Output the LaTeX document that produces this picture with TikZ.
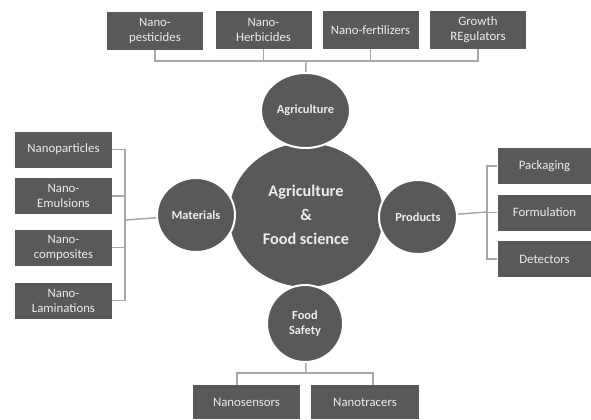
\documentclass[tikz,border=0pt]{standalone}
\usepackage{fontspec}
\setmainfont{Carlito}
\usetikzlibrary{shapes.geometric}
\definecolor{boxgray}{HTML}{595959}
\definecolor{txtgray}{HTML}{EDEDED}
\definecolor{linegray}{HTML}{A6A6A6}
\begin{document}
\begin{tikzpicture}[x=0.75pt,y=-0.75pt,
  box/.style={rectangle, fill=boxgray, text=txtgray, inner sep=0pt, align=center,
    font=\fontsize{9.6}{11.25}\selectfont},
  topbox/.style={box, minimum width=72pt, minimum height=28.5pt},
  leftbox/.style={box, minimum width=72.75pt, minimum height=27pt},
  rightbox/.style={box, minimum width=70.5pt, minimum height=27pt},
  botbox/.style={box, minimum height=25.5pt},
  bub/.style={ellipse, fill=boxgray, draw=white, line width=1.5pt, text=txtgray,
    inner sep=0pt, align=center, font=\bfseries\fontsize{9.3}{11.25}\selectfont},
  conn/.style={draw=linegray, line width=1.1pt}]
\useasboundingbox[fill=white] (0,0) rectangle (591,419);

% central bubble and satellites
\node[bub, minimum width=117pt, minimum height=109.5pt,
      font=\bfseries\fontsize{12.2}{18}\selectfont] (core) at (306,215) {Agriculture\\\&\\Food science};
\node[bub, minimum width=66.75pt, minimum height=56.25pt] (agr) at (305.5,110.5) {Agriculture};
\node[bub, minimum width=58.5pt, minimum height=55.5pt] (mat) at (196,215) {Materials};
\node[bub, minimum width=58.5pt, minimum height=55.5pt] (prod) at (418,217) {Products};
\node[bub, minimum width=57pt, minimum height=57.75pt] (fs) at (305,323.5) {Food\\Safety};

% top boxes
\node[topbox] (t1) at (155,31) {Nano-\\pesticides};
\node[topbox] (t2) at (263.5,30) {Nano-\\Herbicides};
\node[topbox] (t3) at (370.5,30) {Nano-fertilizers};
\node[topbox] (t4) at (478,30) {Growth\\REgulators};
\coordinate (tj) at (306,61);
\draw[conn] (t1.south) -- (t1.south |- tj) -- (t4.south |- tj) -- (t4.south);
\draw[conn] (t2.south) -- (t2.south |- tj);
\draw[conn] (t3.south) -- (t3.south |- tj);
\draw[conn] (tj) -- (agr);

% left boxes
\node[leftbox] (l1) at (63.5,149.5) {Nanoparticles};
\node[leftbox] (l2) at (63.5,196) {Nano-\\Emulsions};
\node[leftbox] (l3) at (63.5,247.5) {Nano-\\composites};
\node[leftbox] (l4) at (63.5,300.5) {Nano-\\Laminations};
\coordinate (lj) at (125,220);
\draw[conn] (l1.east) -- (l1.east -| lj) -- (l4.east -| lj) -- (l4.east);
\draw[conn] (l2.east) -- (l2.east -| lj);
\draw[conn] (l3.east) -- (l3.east -| lj);
\draw[conn] (lj) -- (mat);

% right boxes
\node[rightbox] (r1) at (544.5,166) {Packaging};
\node[rightbox] (r2) at (544.5,212.5) {Formulation};
\node[rightbox] (r3) at (544.5,259) {Detectors};
\coordinate (rj) at (487,212);
\draw[conn] (r1.west) -- (r1.west -| rj) -- (r3.west -| rj) -- (r3.west);
\draw[conn] (r2.west) -- (r2.west -| rj);
\draw[conn] (prod) -- (rj);

% bottom boxes
\node[botbox, minimum width=80.25pt] (b1) at (246.5,402) {Nanosensors};
\node[botbox, minimum width=81pt] (b2) at (365,402) {Nanotracers};
\coordinate (bj) at (306,373);
\coordinate (bl) at (237,373);
\coordinate (br) at (373,373);
\draw[conn] (fs) -- (bj);
\draw[conn] (bl |- b1.north) -- (bl) -- (br) -- (br |- b2.north);
\end{tikzpicture}
\end{document}
